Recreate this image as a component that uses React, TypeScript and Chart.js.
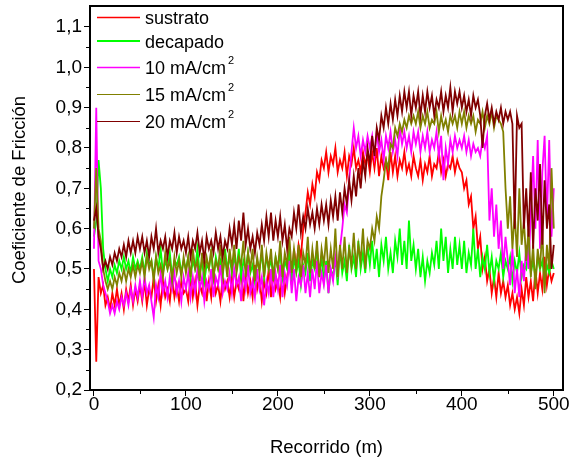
import React, { useEffect, useRef } from 'react';
import { Chart, registerables } from 'chart.js';

Chart.register(...registerables);

const FONT = '"Liberation Sans", Arial, Helvetica, sans-serif';

// Distance (m)
const recorrido = [
  0, 2.5, 5, 7.5, 10, 12.5, 15, 17.5, 20, 22.5, 25, 27.5, 30, 32.5, 35, 37.5, 40, 42.5, 45, 47.5,
  50, 52.5, 55, 57.5, 60, 62.5, 65, 67.5, 70, 72.5, 75, 77.5, 80, 82.5, 85, 87.5, 90, 92.5, 95, 97.5,
  100, 102.5, 105, 107.5, 110, 112.5, 115, 117.5, 120, 122.5, 125, 127.5, 130, 132.5, 135, 137.5, 140, 142.5, 145, 147.5,
  150, 152.5, 155, 157.5, 160, 162.5, 165, 167.5, 170, 172.5, 175, 177.5, 180, 182.5, 185, 187.5, 190, 192.5, 195, 197.5,
  200, 202.5, 205, 207.5, 210, 212.5, 215, 217.5, 220, 222.5, 225, 227.5, 230, 232.5, 235, 237.5, 240, 242.5, 245, 247.5,
  250, 252.5, 255, 257.5, 260, 262.5, 265, 267.5, 270, 272.5, 275, 277.5, 280, 282.5, 285, 287.5, 290, 292.5, 295, 297.5,
  300, 302.5, 305, 307.5, 310, 312.5, 315, 317.5, 320, 322.5, 325, 327.5, 330, 332.5, 335, 337.5, 340, 342.5, 345, 347.5,
  350, 352.5, 355, 357.5, 360, 362.5, 365, 367.5, 370, 372.5, 375, 377.5, 380, 382.5, 385, 387.5, 390, 392.5, 395, 397.5,
  400, 402.5, 405, 407.5, 410, 412.5, 415, 417.5, 420, 422.5, 425, 427.5, 430, 432.5, 435, 437.5, 440, 442.5, 445, 447.5,
  450, 452.5, 455, 457.5, 460, 462.5, 465, 467.5, 470, 472.5, 475, 477.5, 480, 482.5, 485, 487.5, 490, 492.5, 495, 497.5,
  500,
];

const sustrato = [
  0.50, 0.27, 0.48, 0.44, 0.46, 0.41, 0.43, 0.40, 0.44, 0.41, 0.45, 0.41, 0.44, 0.40, 0.45, 0.42, 0.46, 0.41, 0.45, 0.42,
  0.46, 0.42, 0.47, 0.41, 0.45, 0.43, 0.48, 0.42, 0.46, 0.41, 0.47, 0.43, 0.45, 0.42, 0.48, 0.43, 0.46, 0.42, 0.47, 0.44,
  0.45, 0.42, 0.48, 0.43, 0.47, 0.41, 0.46, 0.44, 0.49, 0.42, 0.47, 0.43, 0.50, 0.44, 0.46, 0.42, 0.48, 0.45, 0.47, 0.43,
  0.48, 0.43, 0.47, 0.45, 0.50, 0.42, 0.49, 0.44, 0.47, 0.43, 0.51, 0.45, 0.48, 0.42, 0.47, 0.44, 0.50, 0.43, 0.49, 0.45,
  0.47, 0.43, 0.50, 0.44, 0.48, 0.52, 0.46, 0.55, 0.50, 0.56, 0.53, 0.60, 0.64, 0.69, 0.66, 0.71, 0.68, 0.74, 0.72, 0.77,
  0.75, 0.79, 0.74, 0.78, 0.76, 0.80, 0.74, 0.77, 0.75, 0.79, 0.73, 0.78, 0.76, 0.80, 0.75, 0.77, 0.74, 0.79, 0.76, 0.78,
  0.74, 0.79, 0.75, 0.80, 0.73, 0.78, 0.75, 0.77, 0.72, 0.79, 0.74, 0.78, 0.73, 0.77, 0.75, 0.79, 0.74, 0.76, 0.73, 0.78,
  0.75, 0.73, 0.77, 0.72, 0.76, 0.74, 0.78, 0.73, 0.76, 0.75, 0.79, 0.74, 0.77, 0.73, 0.76, 0.75, 0.78, 0.74, 0.77, 0.75,
  0.74, 0.70, 0.72, 0.66, 0.68, 0.60, 0.63, 0.55, 0.58, 0.50, 0.53, 0.47, 0.50, 0.44, 0.48, 0.43, 0.49, 0.44, 0.47, 0.43,
  0.46, 0.41, 0.44, 0.40, 0.43, 0.39, 0.45, 0.41, 0.48, 0.43, 0.47, 0.42, 0.50, 0.44, 0.49, 0.45, 0.53, 0.46, 0.50, 0.47,
  0.49,
];

const decapado = [
  0.58, 0.62, 0.77, 0.70, 0.55, 0.50, 0.47, 0.50, 0.48, 0.51, 0.49, 0.52, 0.50, 0.53, 0.50, 0.52, 0.49, 0.53, 0.50, 0.52,
  0.50, 0.53, 0.49, 0.54, 0.51, 0.52, 0.48, 0.53, 0.50, 0.55, 0.49, 0.52, 0.50, 0.54, 0.48, 0.52, 0.51, 0.53, 0.49, 0.52,
  0.50, 0.53, 0.48, 0.52, 0.50, 0.55, 0.49, 0.52, 0.47, 0.51, 0.50, 0.54, 0.48, 0.53, 0.50, 0.52, 0.48, 0.55, 0.50, 0.53,
  0.49, 0.53, 0.50, 0.55, 0.48, 0.52, 0.50, 0.54, 0.49, 0.51, 0.47, 0.52, 0.50, 0.54, 0.48, 0.53, 0.50, 0.52, 0.49, 0.53,
  0.50, 0.54, 0.48, 0.52, 0.50, 0.55, 0.47, 0.53, 0.49, 0.52, 0.46, 0.51, 0.49, 0.54, 0.47, 0.52, 0.50, 0.55, 0.48, 0.53,
  0.47, 0.52, 0.44, 0.50, 0.48, 0.53, 0.46, 0.55, 0.49, 0.52, 0.47, 0.56, 0.50, 0.53, 0.48, 0.57, 0.50, 0.54, 0.49, 0.56,
  0.51, 0.57, 0.50, 0.55, 0.48, 0.56, 0.52, 0.58, 0.50, 0.54, 0.49, 0.57, 0.53, 0.60, 0.51, 0.57, 0.50, 0.62, 0.52, 0.56,
  0.50, 0.55, 0.48, 0.53, 0.47, 0.52, 0.49, 0.54, 0.51, 0.57, 0.50, 0.60, 0.52, 0.58, 0.49, 0.55, 0.50, 0.58, 0.51, 0.56,
  0.50, 0.57, 0.49, 0.54, 0.51, 0.60, 0.50, 0.55, 0.48, 0.53, 0.50, 0.56, 0.49, 0.53, 0.47, 0.52, 0.50, 0.54, 0.48, 0.52,
  0.50, 0.53, 0.47, 0.52, 0.49, 0.54, 0.48, 0.51, 0.50, 0.55, 0.49, 0.52, 0.48, 0.53, 0.50, 0.52, 0.47, 0.51, 0.49, 0.52,
  0.50,
];

const ma10 = [
  0.55, 0.90, 0.52, 0.50, 0.46, 0.44, 0.42, 0.39, 0.41, 0.39, 0.42, 0.40, 0.43, 0.41, 0.44, 0.41, 0.45, 0.42, 0.46, 0.43,
  0.47, 0.43, 0.48, 0.44, 0.46, 0.42, 0.38, 0.46, 0.43, 0.49, 0.44, 0.47, 0.43, 0.48, 0.45, 0.49, 0.44, 0.47, 0.42, 0.48,
  0.45, 0.49, 0.43, 0.48, 0.44, 0.50, 0.45, 0.48, 0.42, 0.47, 0.45, 0.50, 0.43, 0.48, 0.46, 0.51, 0.44, 0.47, 0.45, 0.49,
  0.44, 0.50, 0.46, 0.48, 0.42, 0.49, 0.45, 0.51, 0.44, 0.47, 0.43, 0.50, 0.45, 0.48, 0.41, 0.47, 0.44, 0.50, 0.43, 0.49,
  0.45, 0.51, 0.43, 0.49, 0.46, 0.52, 0.44, 0.50, 0.42, 0.48, 0.46, 0.51, 0.44, 0.49, 0.43, 0.50, 0.45, 0.52, 0.44, 0.49,
  0.46, 0.51, 0.44, 0.50, 0.47, 0.53, 0.49, 0.55, 0.60, 0.66, 0.64, 0.72, 0.79, 0.85, 0.80, 0.83, 0.78, 0.82, 0.79, 0.83,
  0.80, 0.83, 0.78, 0.84, 0.79, 0.82, 0.77, 0.83, 0.80, 0.84, 0.79, 0.82, 0.78, 0.85, 0.81, 0.84, 0.80, 0.83, 0.79, 0.84,
  0.81, 0.84, 0.79, 0.83, 0.80, 0.84, 0.79, 0.82, 0.80, 0.84, 0.78, 0.83, 0.72, 0.80, 0.76, 0.82, 0.79, 0.83, 0.80, 0.82,
  0.80, 0.83, 0.79, 0.82, 0.78, 0.81, 0.79, 0.80, 0.78, 0.82, 0.80, 0.83, 0.62, 0.70, 0.58, 0.66, 0.55, 0.62, 0.50, 0.58,
  0.52, 0.46, 0.55, 0.44, 0.50, 0.43, 0.52, 0.47, 0.56, 0.50, 0.64, 0.78, 0.60, 0.82, 0.55, 0.74, 0.83, 0.62, 0.82, 0.58,
  0.70,
];

const ma15 = [
  0.60, 0.75, 0.60, 0.57, 0.50, 0.47, 0.45, 0.47, 0.45, 0.48, 0.46, 0.49, 0.47, 0.50, 0.47, 0.50, 0.48, 0.51, 0.48, 0.51,
  0.49, 0.52, 0.48, 0.53, 0.50, 0.52, 0.47, 0.53, 0.49, 0.51, 0.48, 0.54, 0.50, 0.52, 0.47, 0.53, 0.49, 0.52, 0.48, 0.53,
  0.49, 0.53, 0.48, 0.55, 0.50, 0.52, 0.47, 0.54, 0.49, 0.53, 0.50, 0.55, 0.48, 0.52, 0.50, 0.56, 0.49, 0.53, 0.48, 0.55,
  0.50, 0.56, 0.49, 0.53, 0.51, 0.57, 0.48, 0.54, 0.50, 0.55, 0.47, 0.53, 0.49, 0.56, 0.48, 0.54, 0.50, 0.55, 0.47, 0.53,
  0.50, 0.57, 0.48, 0.54, 0.51, 0.58, 0.49, 0.55, 0.50, 0.56, 0.48, 0.54, 0.51, 0.58, 0.49, 0.55, 0.50, 0.57, 0.48, 0.55,
  0.51, 0.58, 0.49, 0.55, 0.50, 0.60, 0.48, 0.56, 0.50, 0.58, 0.49, 0.55, 0.51, 0.59, 0.50, 0.56, 0.52, 0.60, 0.50, 0.57,
  0.55, 0.60, 0.57, 0.63, 0.60, 0.68, 0.72, 0.77, 0.75, 0.81, 0.80, 0.85, 0.83, 0.86, 0.84, 0.87, 0.85, 0.88, 0.86, 0.88,
  0.86, 0.89, 0.85, 0.88, 0.86, 0.89, 0.85, 0.87, 0.86, 0.89, 0.84, 0.88, 0.85, 0.87, 0.84, 0.88, 0.86, 0.88, 0.85, 0.89,
  0.86, 0.89, 0.85, 0.88, 0.86, 0.88, 0.84, 0.87, 0.86, 0.89, 0.85, 0.88, 0.86, 0.89, 0.85, 0.88, 0.87, 0.86, 0.84, 0.70,
  0.60, 0.68, 0.55, 0.64, 0.53, 0.70, 0.56, 0.62, 0.52, 0.60, 0.48, 0.56, 0.45, 0.55, 0.50, 0.60, 0.44, 0.56, 0.50, 0.75,
  0.60,
];

const ma20 = [
  0.62, 0.65, 0.58, 0.55, 0.50, 0.52, 0.50, 0.53, 0.51, 0.54, 0.52, 0.55, 0.53, 0.56, 0.53, 0.57, 0.54, 0.57, 0.54, 0.58,
  0.55, 0.58, 0.54, 0.57, 0.53, 0.58, 0.55, 0.60, 0.54, 0.57, 0.55, 0.58, 0.53, 0.57, 0.55, 0.59, 0.54, 0.58, 0.55, 0.57,
  0.54, 0.58, 0.53, 0.57, 0.55, 0.59, 0.54, 0.57, 0.52, 0.58, 0.55, 0.57, 0.54, 0.59, 0.55, 0.58, 0.53, 0.57, 0.55, 0.60,
  0.56, 0.61, 0.55, 0.62, 0.57, 0.64, 0.56, 0.60, 0.55, 0.58, 0.54, 0.59, 0.56, 0.61, 0.57, 0.63, 0.58, 0.64, 0.57, 0.62,
  0.58, 0.63, 0.57, 0.61, 0.55, 0.60, 0.58, 0.64, 0.60, 0.66, 0.59, 0.63, 0.60, 0.65, 0.61, 0.64, 0.60, 0.65, 0.61, 0.66,
  0.62, 0.66, 0.61, 0.67, 0.63, 0.68, 0.62, 0.69, 0.64, 0.70, 0.66, 0.72, 0.67, 0.73, 0.68, 0.75, 0.70, 0.77, 0.73, 0.80,
  0.76, 0.83, 0.78, 0.85, 0.82, 0.88, 0.85, 0.90, 0.86, 0.91, 0.87, 0.92, 0.88, 0.93, 0.89, 0.94, 0.90, 0.94, 0.88, 0.93,
  0.90, 0.94, 0.88, 0.93, 0.89, 0.94, 0.90, 0.93, 0.88, 0.92, 0.90, 0.94, 0.89, 0.93, 0.90, 0.95, 0.89, 0.94, 0.91, 0.94,
  0.90, 0.93, 0.89, 0.92, 0.88, 0.93, 0.90, 0.92, 0.88, 0.80, 0.88, 0.91, 0.87, 0.90, 0.86, 0.89, 0.87, 0.90, 0.86, 0.89,
  0.87, 0.89, 0.86, 0.60, 0.88, 0.85, 0.86, 0.60, 0.70, 0.58, 0.74, 0.55, 0.70, 0.62, 0.76, 0.56, 0.72, 0.60, 0.66, 0.50,
  0.56,
];

const xTicks = [0, 100, 200, 300, 400, 500];
const xMinorTicks = [50, 150, 250, 350, 450];
const yTicks = [0.2, 0.3, 0.4, 0.5, 0.6, 0.7, 0.8, 0.9, 1.0, 1.1];
const yMinorTicks = [0.25, 0.35, 0.45, 0.55, 0.65, 0.75, 0.85, 0.95, 1.05];

const seriesLabels = ['sustrato', 'decapado', '10 mA/cm', '15 mA/cm', '20 mA/cm'];
const seriesSup = ['', '', '2', '2', '2'];
const seriesColors = ['#FF0000', '#00FF00', '#FF00FF', '#808000', '#800000'];
const seriesValues = [sustrato, decapado, ma10, ma15, ma20];
const seriesOrder = [4, 3, 2, 1, 0];
const legendLineWidths = [1.5, 2, 1.5, 1, 1];
const legendRows = [17.5, 41, 67.5, 94.5, 121.5];

const xTitle = 'Recorrido (m)';
const yTitle = 'Coeficiente de Fricción';

const decorPlugin = {
  id: 'decor',
  afterDraw(chart: any) {
    const { ctx, chartArea, scales } = chart;
    const { left, right, top, bottom } = chartArea;
    const x = scales.x;
    const y = scales.y;
    ctx.save();
    // frame top + right
    ctx.strokeStyle = '#000';
    ctx.lineWidth = 2;
    ctx.beginPath();
    ctx.moveTo(left - 1, top);
    ctx.lineTo(right, top);
    ctx.lineTo(right, bottom + 1);
    ctx.stroke();
    // minor ticks
    ctx.lineWidth = 1;
    ctx.beginPath();
    xMinorTicks.forEach((v) => {
      const px = Math.round(x.getPixelForValue(v)) + 0.5;
      ctx.moveTo(px, bottom);
      ctx.lineTo(px, bottom + 4);
    });
    yMinorTicks.forEach((v) => {
      const py = Math.round(y.getPixelForValue(v)) + 0.5;
      ctx.moveTo(left - 4, py);
      ctx.lineTo(left, py);
    });
    ctx.stroke();

    // legend
    ctx.textAlign = 'left';
    ctx.textBaseline = 'alphabetic';
    seriesLabels.forEach((label, i) => {
      const ly = legendRows[i];
      ctx.strokeStyle = seriesColors[i];
      ctx.lineWidth = legendLineWidths[i];
      ctx.beginPath();
      ctx.moveTo(97, ly);
      ctx.lineTo(140, ly);
      ctx.stroke();
      ctx.fillStyle = '#000';
      ctx.font = `18px ${FONT}`;
      ctx.fillText(label, 145, ly + 6.5);
      if (seriesSup[i]) {
        const w = ctx.measureText(label).width;
        ctx.font = `11px ${FONT}`;
        ctx.fillText(seriesSup[i], 145 + w + 2, ly - 4);
      }
    });

    // axis titles
    ctx.fillStyle = '#000';
    ctx.font = `18.5px ${FONT}`;
    ctx.textAlign = 'center';
    ctx.fillText(xTitle, (left + right) / 2, 453);
    ctx.translate(25, 190);
    ctx.rotate(-Math.PI / 2);
    ctx.fillText(yTitle, 0, 0);
    ctx.restore();
  },
};

export default function App() {
  const canvasRef = useRef<HTMLCanvasElement | null>(null);

  useEffect(() => {
    document.body.style.margin = '0';
    document.body.style.overflow = 'hidden';
    const canvas = canvasRef.current;
    if (!canvas) return;
    const datasets = seriesLabels.map((label, i) => ({
      label: label + seriesSup[i],
      data: recorrido.map((d, k) => ({ x: d, y: seriesValues[i][k] })),
      borderColor: seriesColors[i],
      backgroundColor: seriesColors[i],
      borderWidth: 1.8,
      pointRadius: 0,
      tension: 0,
      fill: false,
      order: seriesOrder[i],
    }));
    const chart = new Chart(canvas, {
      type: 'line',
      data: { datasets },
      plugins: [decorPlugin],
      options: {
        responsive: false,
        maintainAspectRatio: false,
        animation: false,
        events: [],
        layout: { padding: { left: 0, top: 6, right: 9, bottom: 0 } },
        plugins: { legend: { display: false }, tooltip: { enabled: false } },
        scales: {
          x: {
            type: 'linear',
            min: -4.3,
            max: 510,
            afterFit: (s: any) => { s.height = 67; s.paddingLeft = 0; s.paddingRight = 0; },
            afterBuildTicks: (s: any) => { s.ticks = xTicks.map((v) => ({ value: v })); },
            ticks: {
              font: { family: FONT, size: 19 },
              color: '#000',
              padding: -3,
              maxRotation: 0,
              autoSkip: false,
              callback: (v: any) => String(v),
            },
            grid: { display: true, drawOnChartArea: false, drawTicks: true, tickLength: 6, color: '#000', lineWidth: 1 },
            border: { display: true, color: '#000', width: 2 },
          },
          y: {
            type: 'linear',
            min: 0.2,
            max: 1.152,
            afterFit: (s: any) => { s.width = 90; s.paddingTop = 0; s.paddingBottom = 0; },
            afterBuildTicks: (s: any) => { s.ticks = yTicks.map((v) => ({ value: v })); },
            ticks: {
              font: { family: FONT, size: 19 },
              color: '#000',
              padding: 2,
              autoSkip: false,
              callback: (v: any) => Number(v).toFixed(1).replace('.', ','),
            },
            grid: { display: true, drawOnChartArea: false, drawTicks: true, tickLength: 6, color: '#000', lineWidth: 1 },
            border: { display: true, color: '#000', width: 2 },
          },
        },
      },
    });
    return () => chart.destroy();
  }, []);

  return (
    <div style={{ width: 572, height: 457 }}>
      <canvas ref={canvasRef} width={572} height={457} style={{ display: 'block', width: 572, height: 457 }} />
    </div>
  );
}
